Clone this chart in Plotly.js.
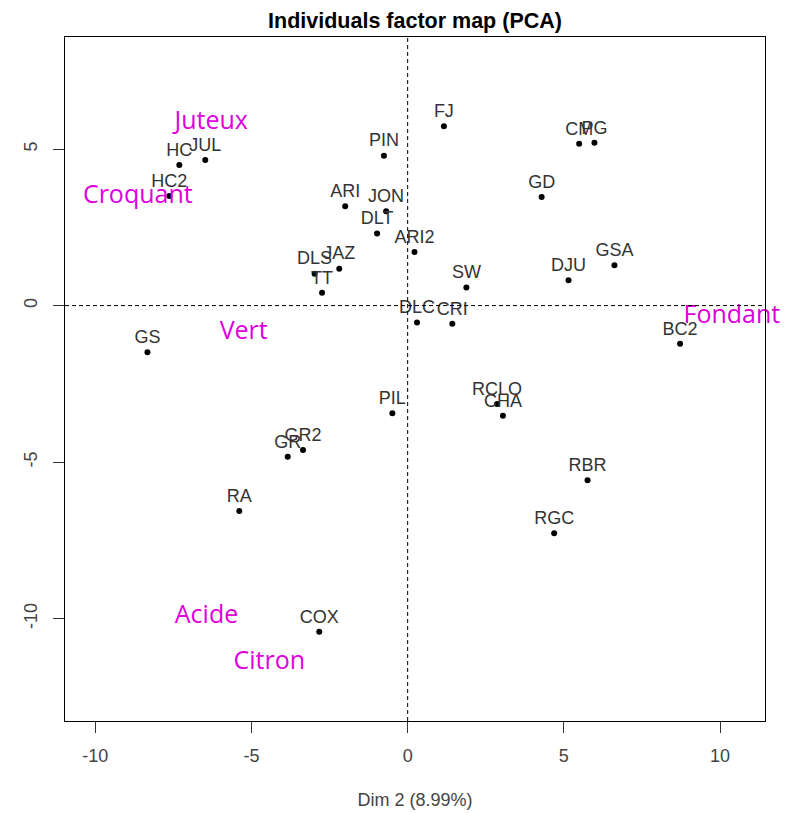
<!DOCTYPE html>
<html>
<head>
<meta charset="utf-8">
<script src="https://cdn.plot.ly/plotly-3.0.1.min.js"></script>
<style>html,body{margin:0;padding:0;background:#fff;}#chart{width:789px;height:813px;}</style>
</head>
<body>
<div id="chart"></div>
<script>
// Individuals (PCA coordinates)
const individuals = ["HC","JUL","HC2","PIN","ARI","JON","DLT","ARI2","JAZ","DLS","TT",
  "FJ","CM","PG","GD","SW","DJU","GSA","DLC","CRI","BC2","RCLO","CHA","RBR","RGC",
  "GS","PIL","GR2","GR","RA","COX"];
const dimX = [-7.31,-6.48,-7.63,-0.76,-2.00,-0.69,-0.98,0.22,-2.19,-2.98,-2.74,
  1.16,5.49,5.98,4.29,1.88,5.15,6.62,0.30,1.43,8.72,2.86,3.05,5.76,4.69,
  -8.33,-0.49,-3.35,-3.84,-5.39,-2.83];
const dimY = [4.49,4.65,3.50,4.79,3.17,3.01,2.30,1.71,1.18,1.02,0.41,
  5.73,5.17,5.20,3.47,0.58,0.81,1.29,-0.54,-0.58,-1.22,-3.14,-3.52,-5.58,-7.27,
  -1.49,-3.44,-4.61,-4.83,-6.56,-10.42];

// Descriptor words (magenta)
const words = ["Juteux","Croquant","Vert","Fondant","Acide","Citron"];
const wordX = [-6.29,-8.64,-5.25,10.38,-6.44,-4.43];
const wordY = [5.83,3.49,-0.87,-0.35,-9.95,-11.40];

const xTicks = [-10,-5,0,5,10];
const yTicks = [-10,-5,0,5];

const traces = [
  {
    type: "scatter", mode: "markers+text",
    x: dimX, y: dimY, text: individuals,
    textposition: "top center",
    textfont: {family: "Liberation Sans, Arial, sans-serif", size: 18, color: "#333"},
    marker: {color: "#000", size: 6},
    cliponaxis: false, hoverinfo: "text", showlegend: false
  },
  {
    type: "scatter", mode: "text",
    x: wordX, y: wordY, text: words,
    textposition: "middle center",
    textfont: {family: "Open Sans, Noto Sans, sans-serif", size: 25, color: "#dd00dd"},
    cliponaxis: false, hoverinfo: "text", showlegend: false
  }
];

const axisCommon = {
  showgrid: false, zeroline: false,
  showline: true, mirror: true, linecolor: "#000", linewidth: 1,
  ticks: "outside", ticklen: 11, tickcolor: "#333", tickwidth: 1,
  tickfont: {family: "Liberation Sans, Arial, sans-serif", size: 18, color: "#444"}
};

const layout = {
  width: 789, height: 813,
  paper_bgcolor: "#fff", plot_bgcolor: "#fff",
  margin: {l: 65, r: 24, t: 37, b: 92},
  title: {text: "<b>Individuals factor map (PCA)</b>", x: 0.526, xanchor: "center", y: 0.975, yanchor: "middle",
    font: {family: "Liberation Sans, Arial, sans-serif", size: 21.5, color: "#000"}},
  xaxis: Object.assign({}, axisCommon, {
    range: [-10.97, 11.44], tickvals: xTicks, ticktext: xTicks.map(String),
    ticklabelstandoff: 7,
    title: {text: "Dim 2 (8.99%)", standoff: 28,
      font: {family: "Liberation Sans, Arial, sans-serif", size: 18, color: "#444"}}
  }),
  yaxis: Object.assign({}, axisCommon, {
    range: [-13.27, 8.58], tickvals: yTicks, ticktext: yTicks.map(String),
    tickangle: -90, ticklabelstandoff: 9
  }),
  shapes: [
    {type: "line", xref: "x", yref: "paper", x0: 0, x1: 0, y0: 0, y1: 1,
     line: {color: "#000", width: 1, dash: "4px,3px"}},
    {type: "line", xref: "paper", yref: "y", x0: 0, x1: 1, y0: 0, y1: 0,
     line: {color: "#000", width: 1, dash: "4px,3px"}}
  ]
};

Plotly.newPlot("chart", traces, layout, {displayModeBar: false, staticPlot: true});
</script>
</body>
</html>
